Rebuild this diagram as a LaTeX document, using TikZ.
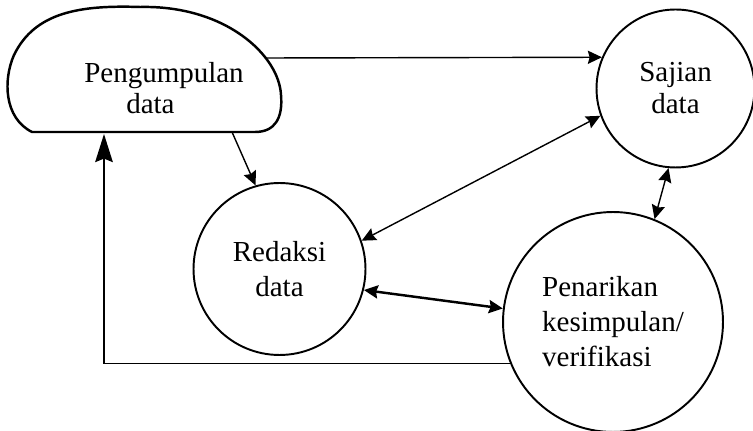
\documentclass[tikz,border=0pt]{standalone}
\usepackage{fontspec}
\setmainfont{Liberation Serif}
\usetikzlibrary{arrows.meta}

\begin{document}
\begin{tikzpicture}[x=0.02cm,y=-0.02cm,
    >={Stealth[length=8pt,width=7.5pt,inset=1pt]},
    ring/.style={shape=circle, draw, line width=1.1pt, align=center, font=\fontsize{16.5}{19.9}\selectfont},
    lijn/.style={line width=0.8pt}]
    \useasboundingbox (0,0) rectangle (753,431);

    % the blob round the first step
    \draw[line width=1.4pt] (32,132) -- (255,132) .. controls (275,132) and (283,118) .. (281,95)
      .. controls (279,55) and (225,5) .. (140,7) .. controls (80,5) and (35,12) .. (14,55)
      .. controls (3,80) and (4,118) .. (32,132) -- cycle;
    \node[align=left, font=\fontsize{16.5}{17.6}\selectfont] (kumpul) at (164,88) {Pengumpulan\\\hspace*{0.84cm}data};

    \node[ring, minimum size=3.16cm, font=\fontsize{16.5}{18.2}\selectfont] (sajian) at (675.5,88.5) {Sajian\\data};
    \node[ring, minimum size=3.44cm] (redaksi) at (279.5,269) {Redaksi\\data};
    \node[ring, minimum size=4.4cm, align=left] (penarikan) at (613,322) {Penarikan\\kesimpulan/\\verifikasi};

    \coordinate (kanan) at (266,58);
    \coordinate (bawah) at (232,132);
    \coordinate (balik) at (104,134);

    \draw[lijn,->] (kanan) -- (sajian.157);
    \draw[lijn,->] (bawah) -- (redaksi.106);
    \draw[lijn,<->] (redaksi.19) -- (sajian.200);
    \draw[line width=1.4pt,<->] (redaksi.-14) -- (penarikan.173);
    \draw[lijn,<->] (sajian.265) -- (penarikan.68);
    \draw[line width=1pt,-{Stealth[length=16pt,width=10pt,inset=2pt]}] (penarikan.202) -| (balik);
\end{tikzpicture}
\end{document}
